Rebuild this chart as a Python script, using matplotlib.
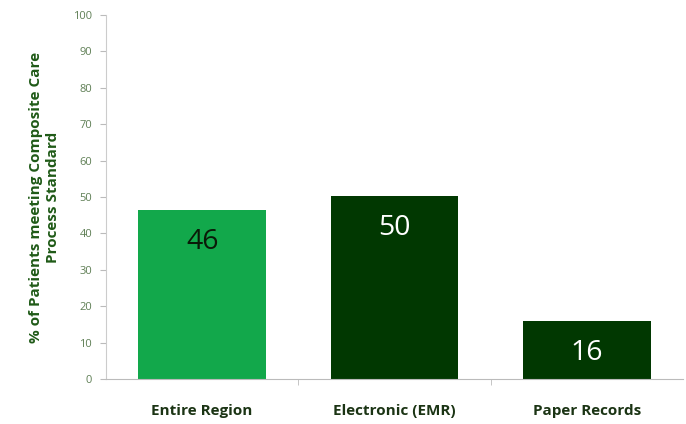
import matplotlib.pyplot as plt
from matplotlib.ticker import MultipleLocator, FixedLocator

categories = ["Entire Region", "Electronic (EMR)", "Paper Records"]
values = [46.4, 50.2, 15.9]
value_labels = ["46", "50", "16"]
bar_colors = ["#12a84b", "#013801", "#013801"]
label_colors = ["#0a1a08", "white", "white"]

plt.rcParams['font.family'] = ['Open Sans', 'DejaVu Sans']

fig = plt.figure(figsize=(6.86, 4.24), dpi=100)
ax = fig.add_axes([0.1545, 0.106, 0.841, 0.8586])

x = range(len(categories))
bars = ax.bar(x, values, width=0.665, color=bar_colors, zorder=2)

for b, lab, c in zip(bars, value_labels, label_colors):
    ax.annotate(lab, (b.get_x() + b.get_width() / 2, b.get_height()),
                xytext=(0, -23), textcoords="offset points",
                ha="center", va="center", fontsize=20.5, color=c)

ax.set_xlim(-0.5, 2.5)
ax.set_ylim(0, 100)
ax.yaxis.set_major_locator(MultipleLocator(10))
ax.set_xticks(list(x))
ax.set_xticklabels(categories, fontsize=11, fontweight="bold", color="#1b3414")
ax.tick_params(axis="x", length=0, pad=18)
ax.xaxis.set_minor_locator(FixedLocator([0.5, 1.5]))
ax.tick_params(axis="x", which="minor", length=4, color="#bbbbbb")
ax.tick_params(axis="y", length=4, color="#bbbbbb", labelsize=8,
               labelcolor="#5f7f55", pad=6)

for s in ["top", "right"]:
    ax.spines[s].set_visible(False)
ax.spines["left"].set_color("#cccccc")
ax.spines["bottom"].set_color("#bbbbbb")

ax.set_ylabel("% of Patients meeting Composite Care\nProcess Standard",
              fontsize=11, fontweight="bold", color="#1f5a17", labelpad=9,
              linespacing=1.35)

fig.savefig("out.png", dpi=100)
